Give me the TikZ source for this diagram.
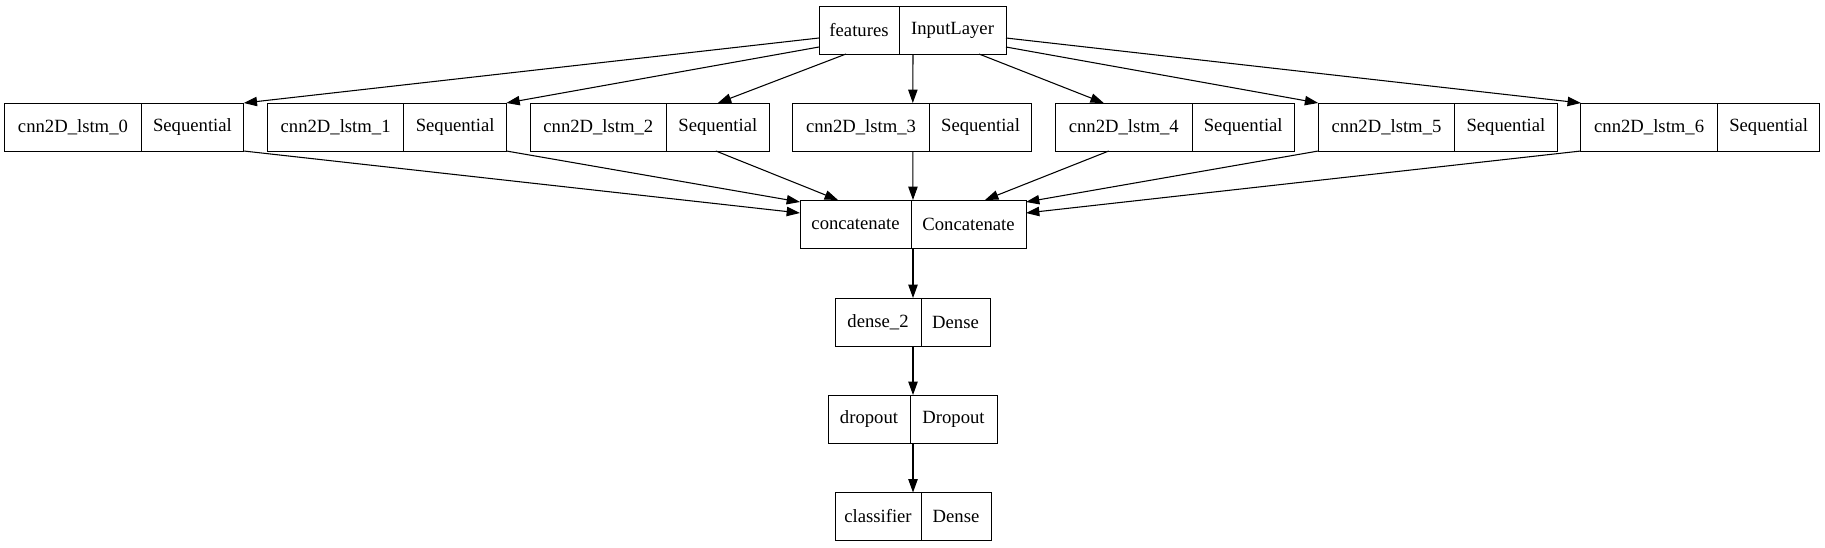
\documentclass[tikz,border=0pt]{standalone}
\usepackage{fontspec}
\setmainfont{Liberation Serif}
\newfontfamily\recordFont{Liberation Serif}
\usetikzlibrary{arrows.meta,calc}

\begin{document}
\begin{tikzpicture}
[x=0.75pt,y=-0.75pt,
  fieldBox/.style={draw,line width=0.75pt,inner sep=0pt,outer sep=0pt,
    minimum height=36pt,anchor=west,minimum width=#1*0.75pt,
    font=\recordFont\fontsize{14}{16}\selectfont},%
  lineDecorate/.style={-{Triangle[length=10pt,width=7pt]},line width=0.8pt}]
\useasboundingbox (0,0) rectangle (1825,547);
\node[fieldBox=80] (features) at (819,30) {features};
\node[fieldBox=107] (featuresType) at (features.east) {InputLayer};
\foreach \i in {0,...,6}
{
  \node[fieldBox=136.5] (lstm\i) at (4.7+262.7*\i,127) {cnn2D\_lstm\_\i};
  \node[fieldBox=102.5] (lstmType\i) at (lstm\i.east) {Sequential};
}
\node[fieldBox=111] (concat) at (800,224) {concatenate};
\node[fieldBox=115] (concatType) at (concat.east) {Concatenate};
\node[fieldBox=86] (dense) at (835,322) {dense\_2};
\node[fieldBox=69] (denseType) at (dense.east) {Dense};
\node[fieldBox=82] (dropout) at (828,419) {dropout};
\node[fieldBox=87] (dropoutType) at (dropout.east) {Dropout};
\node[fieldBox=86] (classifier) at (835,516.5) {classifier};
\node[fieldBox=70] (classifierType) at (classifier.east) {Dense};
% input to branches
\draw[lineDecorate] ($(features.west)+(0,8)$) -- (lstmType0.north east);
\draw[lineDecorate] ($(features.west)+(0,17)$) -- (lstmType1.north east);
\draw[lineDecorate] ($(features.south west)+(27,0)$) -- (lstmType2.north);
\draw[lineDecorate] ($(featuresType.south west)+(14,0)$) -- ($(lstm3.north west)+(120,0)$);
\draw[lineDecorate] ($(featuresType.south east)+(-27,0)$) -- ($(lstm4.north)+(-20,0)$);
\draw[lineDecorate] ($(featuresType.east)+(0,17)$) -- (lstm5.north west);
\draw[lineDecorate] ($(featuresType.east)+(0,8)$) -- (lstm6.north west);
% branches to concatenate
\draw[lineDecorate] (lstmType0.south east) -- ($(concat.west)+(0,-11)$);
\draw[lineDecorate] (lstmType1.south east) -- ($(concat.west)+(0,-22)$);
\draw[lineDecorate] ($(lstmType2.south)+(-2,0)$) -- ($(concat.north west)+(38,0)$);
\draw[lineDecorate] ($(lstm3.south west)+(120,0)$) -- ($(concat.north east)+(2,0)$);
\draw[lineDecorate] ($(lstm4.south)+(-15,0)$) -- ($(concatType.north east)+(-41,0)$);
\draw[lineDecorate] (lstm5.south west) -- ($(concatType.east)+(0,-22)$);
\draw[lineDecorate] (lstm6.south west) -- ($(concatType.east)+(0,-11)$);
% head
\draw[lineDecorate] ($(concat.south east)+(2,0)$) -- ($(dense.north east)+(-8,0)$);
\draw[lineDecorate] ($(dense.south east)+(-8,0)$) -- ($(dropout.north east)+(3,0)$);
\draw[lineDecorate] ($(dropout.south east)+(3,0)$) -- ($(classifier.north east)+(-8,0)$);
\end{tikzpicture}
\end{document}
